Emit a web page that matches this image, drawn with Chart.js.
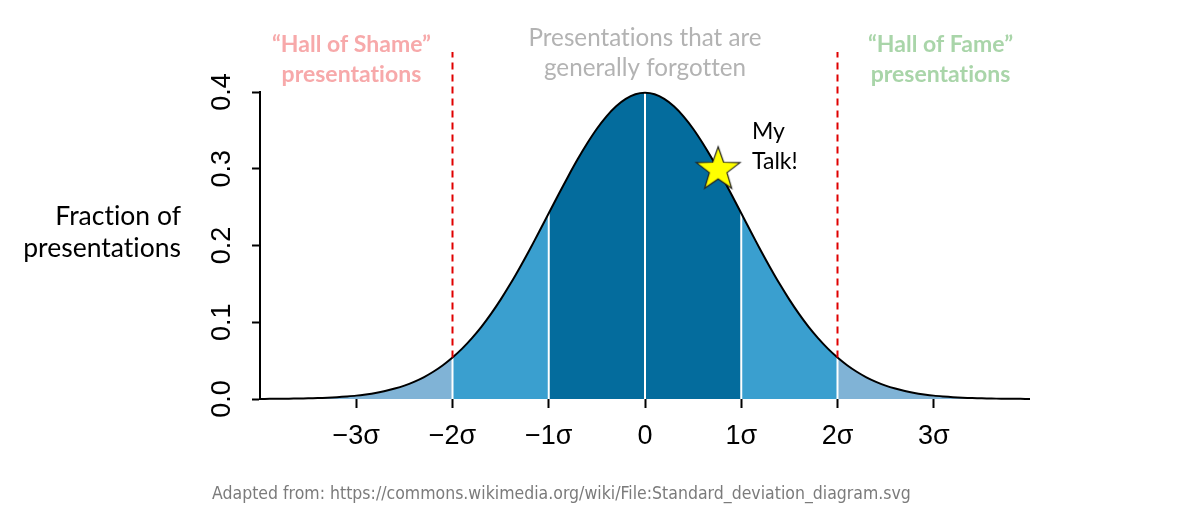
<!DOCTYPE html>
<html>
<head>
<meta charset="utf-8">
<script src="https://cdn.jsdelivr.net/npm/chart.js@4.4.1/dist/chart.umd.min.js"></script>
<style>
  html, body { margin: 0; padding: 0; background: #ffffff; }
  #wrap { width: 1200px; height: 519px; }
</style>
</head>
<body>
<div id="wrap"><canvas id="c" width="1200" height="519"></canvas></div>
<script>
// ---- data ----
const sigmaX = [-4.0,-3.9,-3.8,-3.7,-3.6,-3.5,-3.4,-3.3,-3.2,-3.1,-3.0,-2.9,-2.8,-2.7,-2.6,-2.5,-2.4,-2.3,-2.2,-2.1,-2.0,-1.9,-1.8,-1.7,-1.6,-1.5,-1.4,-1.3,-1.2,-1.1,-1.0,-0.9,-0.8,-0.7,-0.6,-0.5,-0.4,-0.3,-0.2,-0.1,0.0,0.1,0.2,0.3,0.4,0.5,0.6,0.7,0.8,0.9,1.0,1.1,1.2,1.3,1.4,1.5,1.6,1.7,1.8,1.9,2.0,2.1,2.2,2.3,2.4,2.5,2.6,2.7,2.8,2.9,3.0,3.1,3.2,3.3,3.4,3.5,3.6,3.7,3.8,3.9,4.0];
const fraction = [0.0001,0.0002,0.0003,0.0004,0.0006,0.0009,0.0012,0.0017,0.0024,0.0033,0.0044,0.0060,0.0079,0.0104,0.0136,0.0175,0.0224,0.0283,0.0355,0.0440,0.0540,0.0656,0.0790,0.0940,0.1109,0.1295,0.1497,0.1714,0.1942,0.2179,0.2420,0.2661,0.2897,0.3123,0.3332,0.3521,0.3683,0.3814,0.3910,0.3970,0.3989,0.3970,0.3910,0.3814,0.3683,0.3521,0.3332,0.3123,0.2897,0.2661,0.2420,0.2179,0.1942,0.1714,0.1497,0.1295,0.1109,0.0940,0.0790,0.0656,0.0540,0.0440,0.0355,0.0283,0.0224,0.0175,0.0136,0.0104,0.0079,0.0060,0.0044,0.0033,0.0024,0.0017,0.0012,0.0009,0.0006,0.0004,0.0003,0.0002,0.0001];
const bandEdges = [-4, -2, -1, 1, 2, 4];
const bandColors = ['#80b3d6', '#3a9fcf', '#046c9d', '#3a9fcf', '#80b3d6'];
const dividerX = [-2, -1, 0, 1, 2];
const cutoffX = [-2, 2];
const cutoffTop = 0.452;
const xTickValues = [-3, -2, -1, 0, 1, 2, 3];
const xTickLabels = ['\u22123\u03c3', '\u22122\u03c3', '\u22121\u03c3', '0', '1\u03c3', '2\u03c3', '3\u03c3'];
const yTickValues = [0, 0.1, 0.2, 0.3, 0.4];
const yTickLabels = ['0.0', '0.1', '0.2', '0.3', '0.4'];
const myTalk = { x: 0.76, y: 0.300 };

// ---- helpers built from the data ----
const pts = sigmaX.map((x, i) => ({ x: x, y: fraction[i] }));
function valueAt(x) {
  const i = sigmaX.findIndex(v => Math.abs(v - x) < 1e-9);
  return fraction[i];
}

const datasets = [];
for (let b = 0; b < bandColors.length; b++) {
  const lo = bandEdges[b], hi = bandEdges[b + 1];
  datasets.push({
    type: 'line',
    data: pts.filter(p => p.x >= lo - 1e-9 && p.x <= hi + 1e-9),
    fill: 'origin',
    backgroundColor: bandColors[b],
    borderWidth: 0,
    pointRadius: 0,
    tension: 0.3,
    order: 10
  });
}
dividerX.forEach(x => {
  datasets.push({
    type: 'line',
    data: [{ x: x, y: 0 }, { x: x, y: valueAt(x) }],
    borderColor: '#ffffff',
    borderWidth: 2,
    pointRadius: 0,
    fill: false,
    order: 5
  });
});
// curve outline
datasets.push({
  type: 'line',
  data: pts,
  borderColor: '#000000',
  borderWidth: 2,
  pointRadius: 0,
  fill: false,
  tension: 0.3,
  clip: false,
  order: 3
});
cutoffX.forEach(x => {
  datasets.push({
    type: 'line',
    data: [{ x: x, y: valueAt(x) }, { x: x, y: cutoffTop }],
    borderColor: '#e00000',
    borderWidth: 2,
    borderDash: [7, 5],
    pointRadius: 0,
    fill: false,
    clip: false,
    order: 2
  });
});

// star point style
const starCanvas = document.createElement('canvas');
starCanvas.width = 52; starCanvas.height = 52;
(function () {
  const g = starCanvas.getContext('2d');
  const cx = 26, cy = 27, R = 23, r = 9.3;
  g.beginPath();
  for (let k = 0; k < 10; k++) {
    const a = -Math.PI / 2 + k * Math.PI / 5;
    const rr = k % 2 === 0 ? R : r;
    const px = cx + rr * Math.cos(a), py = cy + rr * Math.sin(a);
    if (k === 0) g.moveTo(px, py); else g.lineTo(px, py);
  }
  g.closePath();
  g.fillStyle = '#ffff00';
  g.fill();
  g.lineWidth = 1.2;
  g.strokeStyle = '#222222';
  g.stroke();
})();
datasets.push({
  type: 'scatter',
  data: [myTalk],
  pointStyle: starCanvas,
  pointRadius: 26,
  clip: false,
  order: 0
});

const annotationPlugin = {
  id: 'annot',
  afterDraw(chart) {
    const ctx = chart.ctx;
    const ys = chart.scales.y, xs = chart.scales.x;
    ctx.save();
    if ('letterSpacing' in ctx) ctx.letterSpacing = '0.01px';
    // rotated y tick labels
    ctx.fillStyle = '#000000';
    ctx.font = '27px "Liberation Sans", Arial, sans-serif';
    ctx.textAlign = 'center';
    ctx.textBaseline = 'middle';
    yTickValues.forEach((v, i) => {
      const py = ys.getPixelForValue(v);
      ctx.save();
      ctx.translate(ys.left + 23, py);
      ctx.rotate(-Math.PI / 2);
      ctx.fillText(yTickLabels[i], 0, 0);
      ctx.restore();
    });
    // y title
    ctx.font = '26.5px Lato, "Open Sans", sans-serif';
    ctx.textBaseline = 'alphabetic';
    ctx.textAlign = 'right';
    ctx.fillText('Fraction of', 181, 225);
    ctx.fillText('presentations', 181, 257);
    ctx.textAlign = 'center';
    // header annotations
    ctx.font = 'bold 23px Lato, "Open Sans", sans-serif';
    ctx.fillStyle = '#f7a9aa';
    const xl = xs.getPixelForValue(-3.05);
    ctx.fillText('\u201cHall of Shame\u201d', xl, 52);
    ctx.fillText('presentations', xl, 82);
    ctx.fillStyle = '#a9d5a9';
    const xr = xs.getPixelForValue(3.07);
    ctx.fillText('\u201cHall of Fame\u201d', xr, 52);
    ctx.fillText('presentations', xr, 82);
    ctx.font = '24.2px Lato, "Open Sans", sans-serif';
    ctx.fillStyle = '#b3b3b3';
    const xc = xs.getPixelForValue(0.0);
    ctx.fillText('Presentations that are', xc, 46);
    ctx.fillText('generally forgotten', xc, 76);
    // my talk
    ctx.fillStyle = '#000000';
    ctx.textAlign = 'left';
    ctx.font = '23px Lato, "Open Sans", sans-serif';
    ctx.fillText('My', 752, 139);
    ctx.fillText('Talk!', 752, 169);
    // footer
    ctx.font = '17.5px "DejaVu Sans Condensed", "DejaVu Sans", sans-serif';
    ctx.fillStyle = '#7b7b7b';
    ctx.fillText('Adapted from: https://commons.wikimedia.org/wiki/File:Standard_deviation_diagram.svg', 212, 499);
    ctx.restore();
  }
};

new Chart(document.getElementById('c'), {
  type: 'line',
  data: { datasets: datasets },
  options: {
    responsive: false,
    animation: false,
    devicePixelRatio: 1,
    layout: { padding: { left: 200, right: 170, top: 92, bottom: 60 } },
    plugins: { legend: { display: false }, tooltip: { enabled: false } },
    scales: {
      x: {
        type: 'linear',
        min: -4, max: 4,
        afterFit(s) { s.height = 60; },
        afterBuildTicks(s) { s.ticks = xTickValues.map(v => ({ value: v })); },
        ticks: {
          autoSkip: false,
          maxRotation: 0,
          padding: 12,
          color: '#000000',
          font: { family: '"Liberation Sans", Arial, sans-serif', size: 27 },
          callback(v) { const i = xTickValues.indexOf(v); return i >= 0 ? xTickLabels[i] : ''; }
        },
        grid: { drawOnChartArea: false, drawTicks: true, tickLength: 9, tickColor: '#000000', tickWidth: 2 },
        border: { display: false }
      },
      y: {
        type: 'linear',
        min: 0, max: 0.4,
        afterFit(s) { s.width = 60; },
        afterBuildTicks(s) { s.ticks = yTickValues.map(v => ({ value: v })); },
        ticks: { display: false },
        grid: { drawOnChartArea: false, drawTicks: true, tickLength: 8, tickColor: '#000000', tickWidth: 2 },
        border: { display: true, color: '#000000', width: 2 }
      }
    }
  },
  plugins: [annotationPlugin]
});
</script>
</body>
</html>
